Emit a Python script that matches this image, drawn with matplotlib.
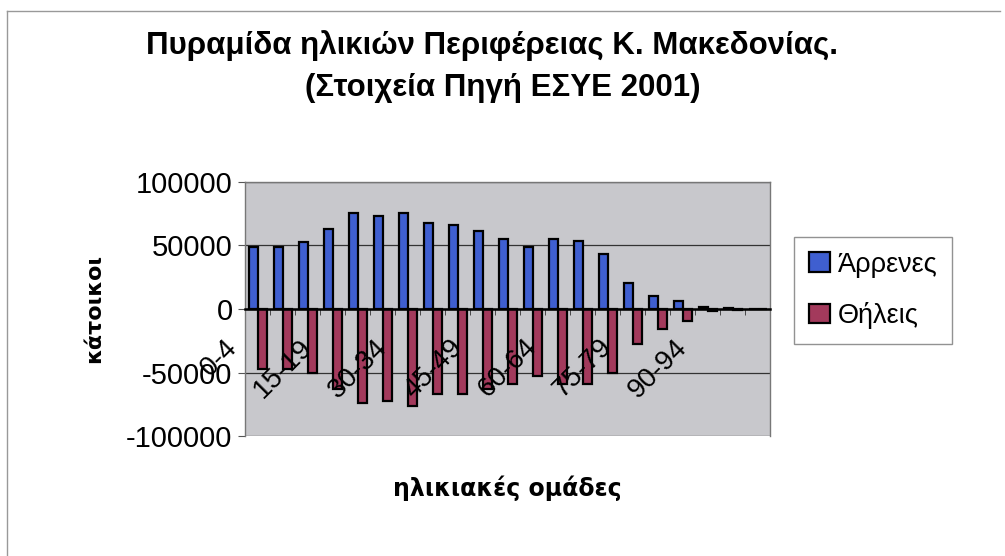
import matplotlib

matplotlib.use("Agg")

import matplotlib.pyplot as plt
import matplotlib.transforms as mtransforms
import numpy as np

# age groups (5-year) and population counts, Central Macedonia, 2001
age_groups = [
    "0-4", "5-9", "10-14", "15-19", "20-24", "25-29", "30-34", "35-39",
    "40-44", "45-49", "50-54", "55-59", "60-64", "65-69", "70-74",
    "75-79", "80-84", "85-89", "90-94", "95-99", "100+",
]
males = [
    49200, 49200, 52900, 63200, 75500, 73400, 75800, 67600, 65800, 61300,
    55500, 49200, 55300, 53200, 43400, 20300, 10300, 6300, 1500, 600, 300,
]
females = [
    -47400, -47400, -50000, -63200, -73700, -72400, -76300, -66600, -66600,
    -63200, -59200, -52600, -59200, -59200, -50000, -27600, -15800, -9200,
    -1500, -700, -300,
]
y_ticks = [100000, 50000, 0, -50000, -100000]

plt.rcParams["font.family"] = ["Liberation Sans", "DejaVu Sans"]

figure = plt.figure(figsize=(10.05, 5.56), dpi=100)
axis = figure.add_axes([0.2438, 0.2158, 0.5224, 0.4569])
axis.set_facecolor("#c8c8cc")

x = np.arange(len(age_groups))
width = 0.36
axis.bar(x - width / 2, males, width, color="#3f5fd0", edgecolor="black",
         linewidth=1.6, label="Άρρενες", zorder=3)
axis.bar(x + width / 2, females, width, color="#a33a5c", edgecolor="black",
         linewidth=1.6, label="Θήλεις", zorder=3)

axis.set_xlim(-0.5, len(age_groups) - 0.5)
axis.set_ylim(-100000, 100000)
axis.set_yticks(y_ticks)
axis.set_yticklabels([str(v) for v in y_ticks], fontsize=21)
axis.yaxis.grid(True, color="#333333", linewidth=0.9, zorder=1)
axis.tick_params(axis="y", length=5, color="#555555", pad=4)

# category axis crosses at zero
axis.spines["bottom"].set_position(("data", 0))
axis.spines["bottom"].set_linewidth(1.8)
axis.spines["bottom"].set_zorder(4)
for side in ["top", "right", "left"]:
    axis.spines[side].set_color("#777777")
    axis.spines[side].set_linewidth(1.0)
axis.set_xticks(x)
axis.set_xticklabels([])
axis.set_xticks(np.arange(len(age_groups) + 1) - 0.5, minor=True)
axis.tick_params(axis="x", which="major", length=0)
axis.tick_params(axis="x", which="minor", length=4, color="#333333")

# category labels every third group, drawn over the bars as in the original
offset = mtransforms.ScaledTranslation(-0.15, -0.25, figure.dpi_scale_trans)
label_transform = axis.transData + offset
for i, group in enumerate(age_groups):
    if i % 3 == 0:
        axis.text(i, 0, group, rotation=45, ha="right", va="top",
                  fontsize=20, transform=label_transform, zorder=6,
                  clip_on=False)

figure.text(0.49, 0.919, "Πυραμίδα ηλικιών Περιφέρειας Κ. Μακεδονίας.",
            ha="center", va="center", fontsize=22.5, fontweight="bold")
figure.text(0.50, 0.842, "(Στοιχεία Πηγή ΕΣΥΕ 2001)",
            ha="center", va="center", fontsize=22.5, fontweight="bold")
figure.text(0.094, 0.446, "κάτοικοι", rotation=90, ha="center", va="center",
            fontsize=16, fontweight="bold", family="DejaVu Sans")
figure.text(0.505, 0.122, "ηλικιακές ομάδες", ha="center", va="center",
            fontsize=17, fontweight="bold", family="DejaVu Sans")

legend = figure.legend(loc="center left", bbox_to_anchor=(0.777, 0.478),
                       fontsize=19.5, frameon=True, fancybox=False,
                       handlelength=0.75, handleheight=0.75, handletextpad=0.3,
                       borderpad=0.55, labelspacing=0.9, edgecolor="#777777")
legend.get_frame().set_linewidth(1.0)

# outer chart border (top and left edges visible in the scan)
figure.add_artist(plt.Line2D([0.007, 0.995], [0.98, 0.98], color="#999999",
                             linewidth=1.0, transform=figure.transFigure))
figure.add_artist(plt.Line2D([0.007, 0.007], [0.0, 0.98], color="#999999",
                             linewidth=1.0, transform=figure.transFigure))

figure.savefig("out.png", dpi=100)
plt.close(figure)
